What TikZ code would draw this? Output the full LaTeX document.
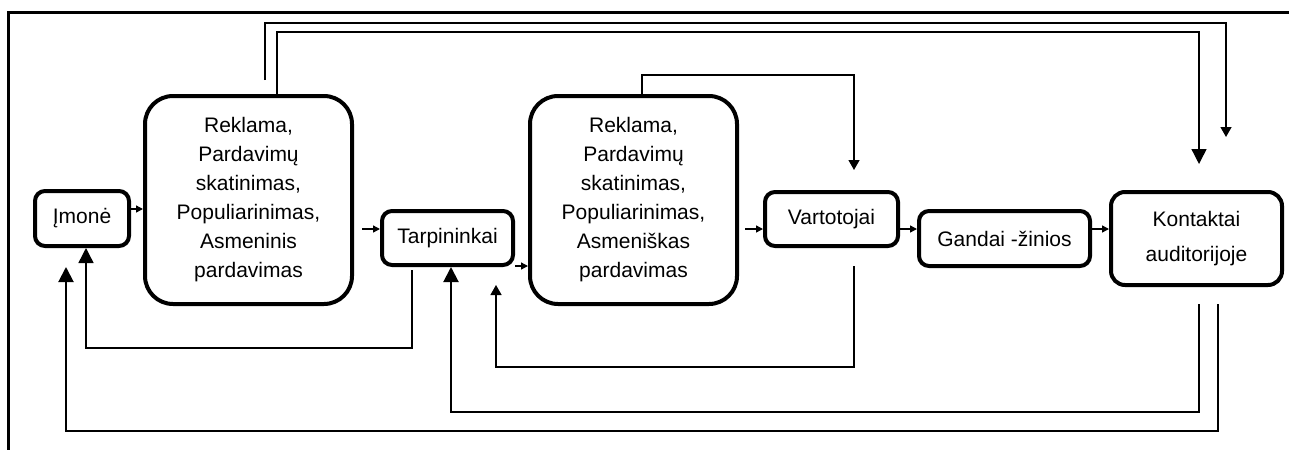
\documentclass[tikz,border=0pt]{standalone}
\usepackage{fontspec}
\setmainfont{Liberation Sans}
\usetikzlibrary{arrows.meta}
\usetikzlibrary{positioning}

\begin{document}
\begin{tikzpicture}[x=1pt,y=-1pt,line width=1.4pt,main node/.style={draw,line width=4pt,rounded corners=10pt,inner sep=0pt,align=center,font=\fontsize{21}{29}\selectfont},big node/.style={main node,rounded corners=28pt,minimum width=207pt,minimum height=208pt},small arrow/.style={-{Triangle[width=7pt,length=7pt]}},mid arrow/.style={-{Triangle[width=11pt,length=10pt]}},big arrow/.style={-{Triangle[width=15pt,length=15pt]}}]

				\useasboundingbox (0,0) rectangle (1289,450);
				\draw[line width=3pt] (1289,12) -- (8,12) -- (8,450);

        				\node[main node,minimum width=94pt,minimum height=55pt] (I) at (82,218.5) {Įmonė};
        				\node[big node] (R1) [right=12pt of I,yshift=18.5pt] {Reklama,\\Pardavimų\\skatinimas,\\Populiarinimas,\\Asmeninis\\pardavimas};
        				\node[main node,minimum width=131pt,minimum height=54pt] (T) [right=26pt of R1,yshift=-38pt] {Tarpininkai};
        				\node[big node] (R2) [right=13pt of T,yshift=38pt] {Reklama,\\Pardavimų\\skatinimas,\\Populiarinimas,\\Asmeniškas\\pardavimas};
        				\node[main node,minimum width=133pt,minimum height=54pt] (V) [right=24pt of R2,yshift=-19pt] {Vartotojai};
        				\node[main node,minimum width=171pt,minimum height=55pt] (G) [right=17pt of V,yshift=-19.5pt] {Gandai -žinios};
        				\node[main node,minimum width=171pt,minimum height=93pt,rounded corners=14pt,font=\fontsize{21}{35}\selectfont] (K) [right=17pt of G] {Kontaktai\\auditorijoje};

				\draw[small arrow] (I.east |- 0,209) -- (R1.west |- 0,209);
				\draw[small arrow,shorten <=8pt] (R1.east |- 0,229) -- (T.west |- 0,229);
				\draw[small arrow] (T.east |- 0,266) -- (R2.west |- 0,266);
				\draw[small arrow,shorten <=6pt] (R2.east |- 0,229) -- (V.west |- 0,229);
				\draw[small arrow] (V.east |- 0,229) -- (G.west |- 0,229);
				\draw[small arrow] (G.east |- 0,229) -- (K.west |- 0,229);

				\draw[mid arrow,shorten <=14pt,shorten >=53pt] (R1.north -| 265,0) |- (1226,23) -- (K.north -| 1226,0);
				\draw[big arrow,shorten >=26pt] (R1.north -| 277,0) |- (1199,32) -- (K.north -| 1199,0);
				\draw[mid arrow,shorten >=20pt] (R2.north -| 642,0) |- (854,75) -- (V.north -| 854,0);

				\draw[big arrow,shorten <=3pt] (T.south -| 412,0) |- (86,348) -- (I.south -| 86,0);
				\draw[mid arrow,shorten <=18pt,shorten >=18pt] (V.south -| 854,0) |- (496,367) -- (T.south -| 496,0);
				\draw[big arrow,line width=2pt,shorten <=17pt] (K.south -| 1199,0) |- (451,412) -- (T.south -| 451,0);
				\draw[big arrow,line width=2pt,shorten <=17pt,shorten >=19pt] (K.south -| 1218,0) |- (66,431) -- (I.south -| 66,0);

			\end{tikzpicture}
\end{document}
